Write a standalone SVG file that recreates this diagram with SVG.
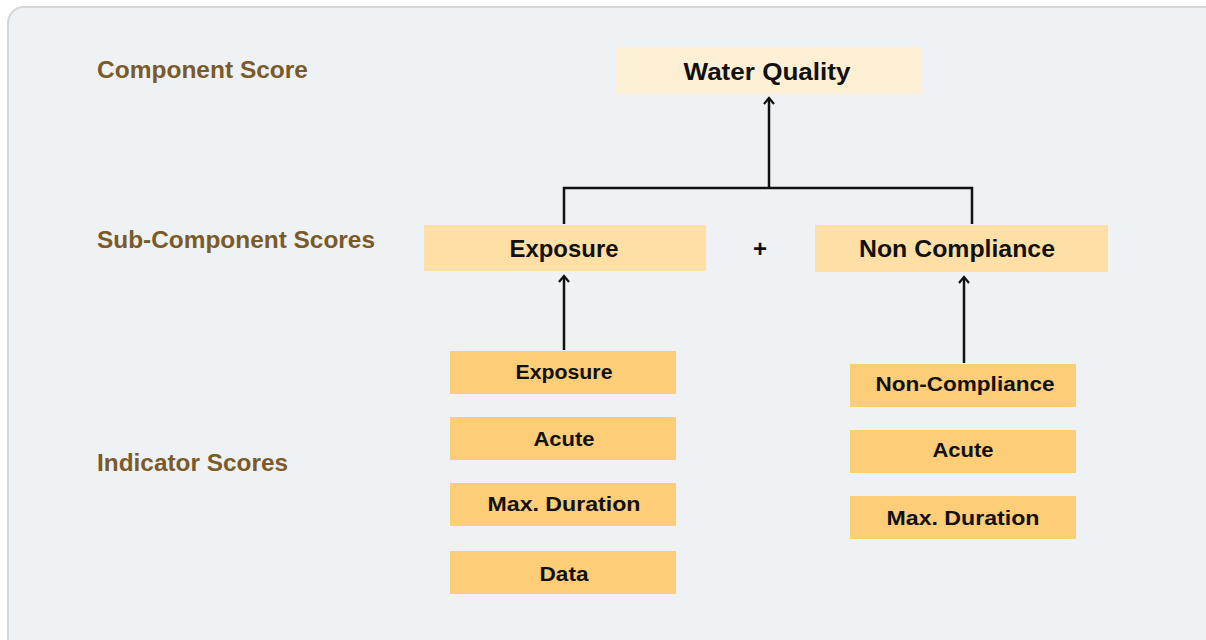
<svg xmlns="http://www.w3.org/2000/svg" width="1206" height="640" viewBox="0 0 1206 640">
<style>
.lbl{font-family:"Liberation Sans",Arial,sans-serif;font-weight:bold;font-size:23px;fill:#7b5a2a}
.t{font-family:"Liberation Sans",Arial,sans-serif;font-weight:bold;fill:#111;text-anchor:middle}
.big{font-size:24px}
.sm{font-size:20px}
.wq{fill:#fdefd3}
.sub{fill:#fee0a6}
.ind{fill:#fdcd78}
.c{stroke:#111;stroke-width:2.5;fill:none}
</style>
<defs>
<marker id="ah" viewBox="0 0 12 12" refX="10" refY="6" markerWidth="12" markerHeight="12" markerUnits="userSpaceOnUse" orient="auto">
<path d="M4,1 L10,6 L4,11" fill="none" stroke="#111" stroke-width="2.2"/>
</marker>
</defs>
<rect x="0" y="0" width="1206" height="640" fill="#ffffff"/>
<rect x="8" y="7" width="1220" height="660" rx="16" fill="#eff2f4" stroke="#d4d6d8" stroke-width="2"/>
<text class="lbl" x="97" y="78" textLength="211" lengthAdjust="spacingAndGlyphs">Component Score</text>
<text class="lbl" x="97" y="248" textLength="278" lengthAdjust="spacingAndGlyphs">Sub-Component Scores</text>
<text class="lbl" x="97" y="471" textLength="191" lengthAdjust="spacingAndGlyphs">Indicator Scores</text>
<g id="connectors">
<path class="c" d="M564,224 V188 H972 V224"/>
<path class="c" d="M769,188 V98" marker-end="url(#ah)"/>
<path class="c" d="M564,350 V276" marker-end="url(#ah)"/>
<path class="c" d="M964,363 V277" marker-end="url(#ah)"/>
</g>
<g id="water-quality"><rect class="wq" x="615" y="47" width="306" height="47"/><text class="t big" x="767" y="80" textLength="167" lengthAdjust="spacingAndGlyphs">Water Quality</text></g>
<g id="exposure-sub"><rect class="sub" x="424" y="225" width="282" height="46"/><text class="t big" x="564" y="257" textLength="109" lengthAdjust="spacingAndGlyphs">Exposure</text></g>
<g id="plus"><text class="t big" x="760" y="257">+</text></g>
<g id="noncompliance-sub"><rect class="sub" x="815" y="225" width="293" height="47"/><text class="t big" x="957" y="257" textLength="196" lengthAdjust="spacingAndGlyphs">Non Compliance</text></g>
<g id="ind-exposure"><rect class="ind" x="450" y="351" width="226" height="43"/><text class="t sm" x="564" y="379" textLength="97" lengthAdjust="spacingAndGlyphs">Exposure</text></g>
<g id="ind-acute-l"><rect class="ind" x="450" y="417" width="226" height="43"/><text class="t sm" x="564" y="446" textLength="61" lengthAdjust="spacingAndGlyphs">Acute</text></g>
<g id="ind-maxdur-l"><rect class="ind" x="450" y="483" width="226" height="43"/><text class="t sm" x="564" y="511" textLength="153" lengthAdjust="spacingAndGlyphs">Max. Duration</text></g>
<g id="ind-data"><rect class="ind" x="450" y="551" width="226" height="43"/><text class="t sm" x="564" y="581" textLength="49" lengthAdjust="spacingAndGlyphs">Data</text></g>
<g id="ind-noncompliance"><rect class="ind" x="850" y="364" width="226" height="43"/><text class="t sm" x="965" y="391" textLength="179" lengthAdjust="spacingAndGlyphs">Non-Compliance</text></g>
<g id="ind-acute-r"><rect class="ind" x="850" y="430" width="226" height="43"/><text class="t sm" x="963" y="457" textLength="61" lengthAdjust="spacingAndGlyphs">Acute</text></g>
<g id="ind-maxdur-r"><rect class="ind" x="850" y="496" width="226" height="43"/><text class="t sm" x="963" y="525" textLength="153" lengthAdjust="spacingAndGlyphs">Max. Duration</text></g>
</svg>
